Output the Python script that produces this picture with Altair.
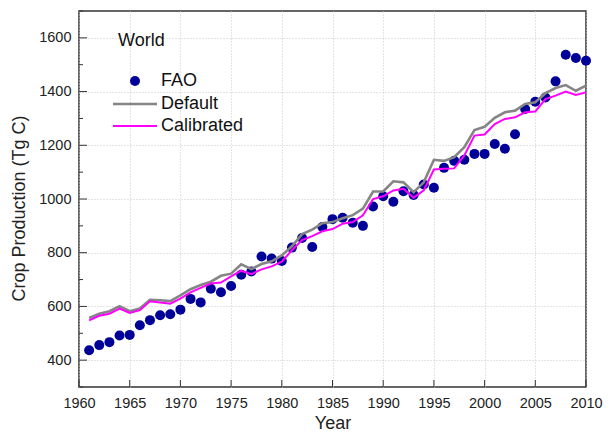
import altair as alt
import pandas as pd

years = list(range(1961, 2011))
fao = [437, 456, 467, 492, 494, 530, 549, 567, 571, 588,
       628, 615, 666, 653, 676, 718, 730, 786, 778, 769,
       819, 855, 821, 896, 925, 930, 912, 900, 972, 1010,
       990, 1029, 1015, 1054, 1042, 1116, 1142, 1146, 1168, 1168,
       1205, 1187, 1241, 1335, 1362, 1378, 1438, 1537, 1525, 1515]
default = [557, 573, 582, 601, 582, 592, 625, 623, 620, 641,
           664, 680, 692, 714, 722, 757, 739, 758, 768, 790,
           824, 869, 886, 910, 914, 928, 940, 964, 1028, 1028,
           1066, 1062, 1025, 1062, 1146, 1142, 1156, 1193, 1257, 1269,
           1302, 1323, 1329, 1354, 1360, 1394, 1413, 1424, 1403, 1422]
calibrated = [548, 565, 573, 592, 576, 586, 619, 615, 610, 629,
              652, 669, 685, 689, 712, 733, 720, 738, 749, 767,
              809, 847, 862, 880, 888, 908, 914, 939, 1000, 1010,
              1032, 1038, 1005, 1032, 1110, 1113, 1114, 1162, 1236, 1240,
              1279, 1298, 1304, 1323, 1326, 1372, 1385, 1400, 1387, 1397]

x_ticks = [1960, 1965, 1970, 1975, 1980, 1985, 1990, 1995, 2000, 2005, 2010]
y_major = [400, 600, 800, 1000, 1200, 1400, 1600]
y_minor = [300, 500, 700, 900, 1100, 1300, 1500, 1700]
region = ["World"]
legend_labels = ["FAO", "Default", "Calibrated"]

FONT = "Liberation Sans"
df = pd.DataFrame({"Year": years, "FAO": fao, "Default": default, "Calibrated": calibrated})

xs = alt.Scale(domain=[1960, 2010], nice=False, zero=False)
ys = alt.Scale(domain=[300, 1700], nice=False, zero=False)

x_axis = alt.Axis(values=x_ticks, format="d", title="Year", grid=True, gridDash=[1, 2],
                  gridColor="#c8c8c8", ticks=False, domain=False, labelPadding=9,
                  labelFontSize=14.5, labelColor="#222", labelFont=FONT,
                  titleFontSize=18, titleFont=FONT, titleFontWeight="normal", titleColor="#222",
                  titleBaseline="alphabetic", titleY=41, labelFlush=False)
y_axis = alt.Axis(values=y_major, format="d", title="Crop Production (Tg C)", grid=True, gridDash=[1, 2],
                  gridColor="#c8c8c8", ticks=False, domain=False, labelPadding=8,
                  labelFontSize=14.5, labelColor="#222", labelFont=FONT,
                  titleFontSize=18, titleFont=FONT, titleFontWeight="normal", titleColor="#222",
                  titleBaseline="alphabetic", titleX=-55, titleY=197, titleAlign="center",
                  titleAngle=270)


def X(field):
    return alt.X(field, type="quantitative", scale=xs, axis=x_axis)


def Y(field):
    return alt.Y(field, type="quantitative", scale=ys, axis=y_axis)


base = alt.Chart(df)
pts = base.mark_circle(size=100, color="#000099", opacity=1).encode(x=X("Year"), y=Y("FAO"))
l_def = base.mark_line(color="#858585", strokeWidth=2.6).encode(x=X("Year"), y=Y("Default"))
l_cal = base.mark_line(color="#ff00ff", strokeWidth=2).encode(x=X("Year"), y=Y("Calibrated"))

ymaj = alt.Chart(pd.DataFrame({"v": y_major})).mark_rule(color="#333", strokeWidth=1).encode(
    y=Y("v"), x=alt.value(0), x2=alt.value(8))
ymin = alt.Chart(pd.DataFrame({"v": y_minor})).mark_rule(color="#333", strokeWidth=1).encode(
    y=Y("v"), x=alt.value(0), x2=alt.value(4))
xmaj = alt.Chart(pd.DataFrame({"v": x_ticks})).mark_rule(color="#333", strokeWidth=1).encode(
    x=X("v"), y=alt.value(376), y2=alt.value(369))

t_world = alt.Chart(pd.DataFrame({"t": region})).mark_text(
    align="left", baseline="middle", fontSize=18, font=FONT, color="#111").encode(
    text="t:N", x=alt.value(39), y=alt.value(30))
leg_text = []
for lab, yy in zip(legend_labels, [70, 93, 115]):
    leg_text.append(alt.Chart(pd.DataFrame({"t": [lab]})).mark_text(
        align="left", baseline="middle", fontSize=18, font=FONT, color="#111").encode(
        text="t:N", x=alt.value(82), y=alt.value(yy)))
leg_pt = alt.Chart(pd.DataFrame({"t": ["FAO"]})).mark_circle(size=100, color="#000099", opacity=1).encode(
    x=alt.value(56), y=alt.value(70))
leg_def = alt.Chart(pd.DataFrame({"t": ["Default"]})).mark_rule(color="#858585", strokeWidth=2.6).encode(
    x=alt.value(34), x2=alt.value(78), y=alt.value(93))
leg_cal = alt.Chart(pd.DataFrame({"t": ["Calibrated"]})).mark_rule(color="#ff00ff", strokeWidth=2).encode(
    x=alt.value(34), x2=alt.value(78), y=alt.value(115))

chart = alt.layer(pts, l_def, l_cal, ymaj, ymin, xmaj, t_world, *leg_text, leg_pt, leg_def, leg_cal).properties(
    width=507, height=376,
    autosize=alt.AutoSizeParams(type="none"),
    padding={"left": 71, "top": 3, "right": 17, "bottom": 46},
    background="white",
).configure_view(stroke="#333", strokeWidth=1.5)

chart.save("out.html", embed_options={"renderer": "svg", "actions": False})
